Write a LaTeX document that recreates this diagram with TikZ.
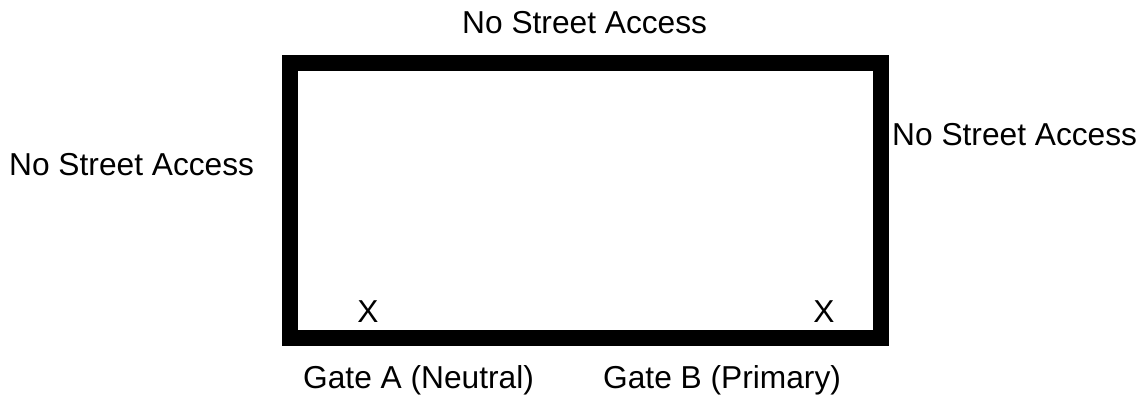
\documentclass[tikz,border=0pt]{standalone}
\usepackage{fontspec}
\setmainfont{Liberation Sans}
\begin{document}
\begin{tikzpicture}[x=1pt,y=-1pt,
  lbl/.style={anchor=base west,inner sep=0pt,font=\fontsize{31.7}{36}\selectfont},
  mk/.style={anchor=base,inner sep=0pt,font=\fontsize{31.7}{36}\selectfont},
  wall/.style={draw=black,line width=16pt}]
\useasboundingbox (0,0) rectangle (1147,400);
\draw[wall] (290,63) rectangle (881,338);
\node[lbl] (top) at (462,33) {No Street Access};
\node[lbl] (left) at (9,175) {No Street Access};
\node[lbl] (right) at (892,145) {No Street Access};
\node[lbl] (gateA) at (303,388) {Gate A (Neutral)};
\node[lbl] (gateB) at (603,388) {Gate B (Primary)};
\node[mk] (xA) at (368,322) {X};
\node[mk] (xB) at (824,322) {X};
\end{tikzpicture}
\end{document}
